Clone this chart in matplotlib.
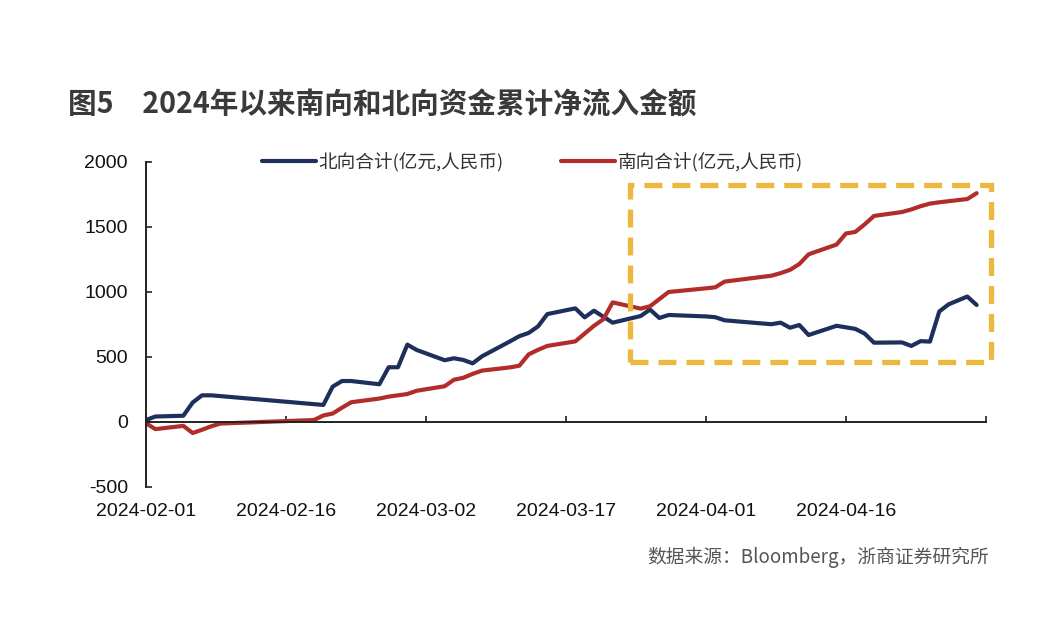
import matplotlib
matplotlib.use("Agg")
import matplotlib.pyplot as plt
import matplotlib.dates as mdates
import pandas as pd
from matplotlib.patches import Rectangle

# 北向累计净流入（亿元）
north_dates = [
    "2024-02-01", "2024-02-02", "2024-02-05", "2024-02-06", "2024-02-07", "2024-02-08",
    "2024-02-20", "2024-02-21", "2024-02-22", "2024-02-23", "2024-02-26", "2024-02-27",
    "2024-02-28", "2024-02-29", "2024-03-01", "2024-03-04", "2024-03-05", "2024-03-06",
    "2024-03-07", "2024-03-08", "2024-03-11", "2024-03-12", "2024-03-13", "2024-03-14",
    "2024-03-15", "2024-03-18", "2024-03-19", "2024-03-20", "2024-03-21", "2024-03-22",
    "2024-03-25", "2024-03-26", "2024-03-27", "2024-03-28", "2024-04-01", "2024-04-02",
    "2024-04-03", "2024-04-08", "2024-04-09", "2024-04-10", "2024-04-11", "2024-04-12",
    "2024-04-15", "2024-04-16", "2024-04-17", "2024-04-18", "2024-04-19", "2024-04-22",
    "2024-04-23", "2024-04-24", "2024-04-25", "2024-04-26", "2024-04-27", "2024-04-29",
    "2024-04-30",
]
north_values = [
    15, 42, 48, 150, 205, 205,
    131, 272, 315, 315, 290, 421,
    421, 595, 554, 475, 490, 477,
    451, 505, 620, 660, 685, 735,
    830, 874, 805, 856, 810, 764,
    815, 865, 800, 823, 812, 806,
    782, 752, 764, 725, 746, 669,
    740, 728, 716, 680, 610, 612,
    585, 622, 618, 850, 905, 965,
    900,
]

# 南向累计净流入（亿元）
south_dates = [
    "2024-02-01", "2024-02-02", "2024-02-05", "2024-02-06", "2024-02-07", "2024-02-08",
    "2024-02-09", "2024-02-19", "2024-02-20", "2024-02-21", "2024-02-22", "2024-02-23",
    "2024-02-26", "2024-02-27", "2024-02-28", "2024-02-29", "2024-03-01", "2024-03-04",
    "2024-03-05", "2024-03-06", "2024-03-07", "2024-03-08", "2024-03-11", "2024-03-12",
    "2024-03-13", "2024-03-14", "2024-03-15", "2024-03-18", "2024-03-19", "2024-03-20",
    "2024-03-21", "2024-03-22", "2024-03-25", "2024-03-26", "2024-03-27", "2024-03-28",
    "2024-04-01", "2024-04-02", "2024-04-03", "2024-04-08", "2024-04-09", "2024-04-10",
    "2024-04-11", "2024-04-12", "2024-04-15", "2024-04-16", "2024-04-17", "2024-04-18",
    "2024-04-19", "2024-04-22", "2024-04-23", "2024-04-24", "2024-04-25", "2024-04-26",
    "2024-04-29", "2024-04-30",
]
south_values = [
    -10, -55, -30, -85, -60, -33,
    -12, 15, 50, 65, 110, 152,
    180, 195, 205, 215, 240, 275,
    325, 340, 370, 395, 420, 433,
    520, 555, 585, 620, 680, 740,
    790, 920, 872, 890, 945, 1000,
    1028, 1036, 1080, 1125, 1145, 1170,
    1215, 1290, 1365, 1450, 1462, 1520,
    1585, 1615, 1635, 1660, 1680, 1690,
    1715, 1760,
]

north_label = "北向合计(亿元,人民币)"
south_label = "南向合计(亿元,人民币)"
title = "图5\u30002024年以来南向和北向资金累计净流入金额"
source = "数据来源：Bloomberg，浙商证券研究所"

y_ticks = [-500, 0, 500, 1000, 1500, 2000]
x_start, x_end = "2024-02-01", "2024-05-01"

# 虚线框标注的区间
box_start, box_end = "2024-03-23 20:00", "2024-05-01 14:00"
box_low, box_high = 462, 1823

NAVY = "#1f2f5c"
RED = "#b22d2a"
GOLD = "#edb83e"
CJK = ["Noto Sans CJK SC", "DejaVu Sans"]

plt.rcParams["font.family"] = ["Liberation Sans", "Noto Sans CJK SC", "DejaVu Sans"]

fig = plt.figure(figsize=(10.46, 6.24), dpi=100)
ax = fig.add_axes([0.1396, 0.2196, 0.803, 0.5208])

ax.plot(pd.to_datetime(north_dates), north_values, color=NAVY, lw=3,
        solid_joinstyle="round", solid_capstyle="round", label=north_label)
ax.plot(pd.to_datetime(south_dates), south_values, color=RED, lw=3,
        solid_joinstyle="round", solid_capstyle="round", label=south_label)

x0 = mdates.date2num(pd.Timestamp(box_start))
x1 = mdates.date2num(pd.Timestamp(box_end))
ax.add_patch(Rectangle((x0, box_low), x1 - x0, box_high - box_low, fill=False,
                       edgecolor=GOLD, lw=3.8, linestyle=(0, (3.4, 1.9)),
                       clip_on=False, zorder=5))

ax.set_xlim(pd.Timestamp(x_start), pd.Timestamp(x_end))
ax.set_ylim(-500, 2000)
ax.set_yticks(y_ticks)
ax.set_yticklabels([str(v) for v in y_ticks])

xt = pd.date_range(x_start, periods=7, freq="15D")
ax.set_xticks(xt)
ax.set_xticklabels([d.strftime("%Y-%m-%d") for d in xt[:-1]] + [""])

for s in ["top", "right"]:
    ax.spines[s].set_visible(False)
ax.spines["bottom"].set_position(("data", 0))
for s in ["left", "bottom"]:
    ax.spines[s].set_linewidth(1.4)
    ax.spines[s].set_color("#222222")

ax.tick_params(axis="both", direction="in", length=4.5, width=1.2,
               colors="#222222", labelsize=14, labelcolor="#111111")
ax.tick_params(axis="x", pad=58)
ax.tick_params(axis="y", pad=13)

leg = ax.legend(loc="center", bbox_to_anchor=(0.509, 0.741), bbox_transform=fig.transFigure,
                ncol=2, frameon=False, handlelength=2.9, handletextpad=0.15,
                columnspacing=3.1, prop={"family": CJK, "size": 13.4})
for t in leg.get_texts():
    t.set_color("#333333")

fig.text(0.065, 0.832, title, family=CJK, fontsize=20.6, fontweight="bold",
         color="#3a3a3a", va="center", ha="left")
fig.text(0.945, 0.107, source, family=CJK, fontsize=13.5, color="#555555",
         va="center", ha="right")

fig.savefig("out.png", dpi=100)
